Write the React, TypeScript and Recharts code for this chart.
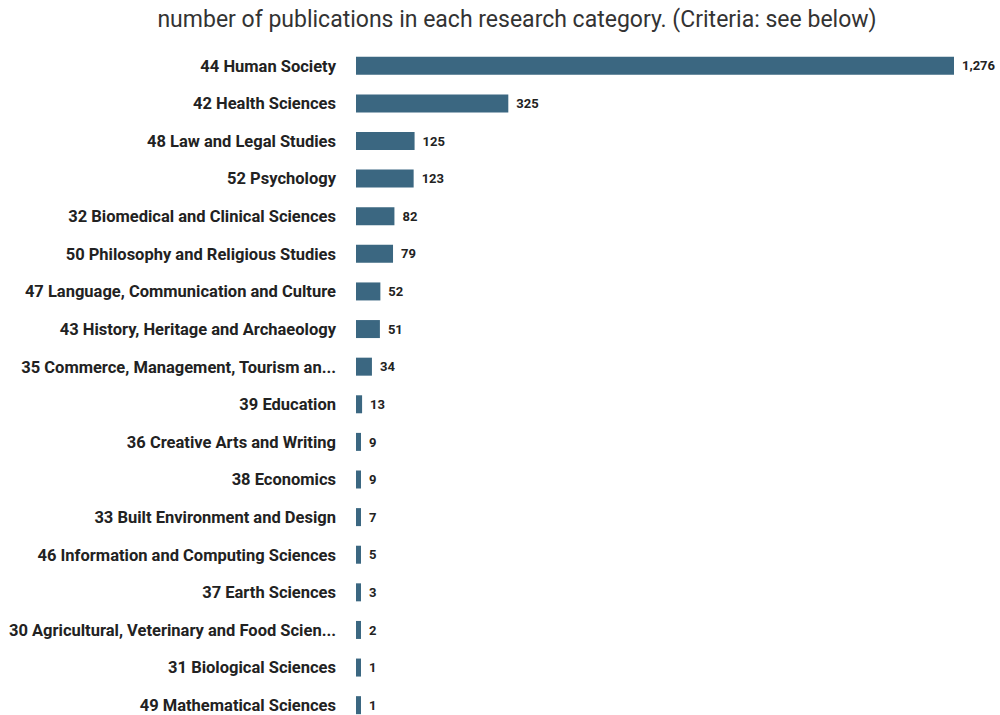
import { Bar, BarChart, LabelList, XAxis, YAxis } from "recharts";

const categories = [
  "44 Human Society",
  "42 Health Sciences",
  "48 Law and Legal Studies",
  "52 Psychology",
  "32 Biomedical and Clinical Sciences",
  "50 Philosophy and Religious Studies",
  "47 Language, Communication and Culture",
  "43 History, Heritage and Archaeology",
  "35 Commerce, Management, Tourism an...",
  "39 Education",
  "36 Creative Arts and Writing",
  "38 Economics",
  "33 Built Environment and Design",
  "46 Information and Computing Sciences",
  "37 Earth Sciences",
  "30 Agricultural, Veterinary and Food Scien...",
  "31 Biological Sciences",
  "49 Mathematical Sciences",
];

const publications = [1276, 325, 125, 123, 82, 79, 52, 51, 34, 13, 9, 9, 7, 5, 3, 2, 1, 1];

const data = categories.map((name, i) => ({ name, count: publications[i] }));

const font = "Roboto, 'Noto Sans', sans-serif";

export default function App() {
  return (
    <div
      style={{
        position: "absolute",
        left: 0,
        top: 0,
        width: 1000,
        height: 715,
        overflow: "hidden",
        background: "#fff",
        fontFamily: font,
      }}
    >
      <div
        style={{
          position: "absolute",
          left: 0,
          top: 6,
          width: 1034,
          textAlign: "center",
          fontSize: 23,
          color: "#333",
        }}
      >
        number of publications in each research category. (Criteria: see below)
      </div>
      <BarChart
        layout="vertical"
        width={1000}
        height={724}
        data={data}
        margin={{ top: 47, right: 46, bottom: 0, left: 0 }}
        barCategoryGap="26%"
      >
        <XAxis type="number" dataKey="count" domain={[0, "dataMax"]} hide />
        <YAxis
          type="category"
          dataKey="name"
          width={356}
          axisLine={false}
          tickLine={false}
          tickMargin={14}
          interval={0}
          tick={{ fontSize: 16.5, fontWeight: 700, fill: "#222", fontFamily: font }}
        />
        <Bar dataKey="count" fill="#3b6781" minPointSize={5} isAnimationActive={false}>
          <LabelList
            dataKey="count"
            position="right"
            offset={8}
            formatter={(v: number) => v.toLocaleString("en-US")}
            style={{ fontSize: 13, fontWeight: 700, fill: "#222", fontFamily: font }}
          />
        </Bar>
      </BarChart>
    </div>
  );
}
